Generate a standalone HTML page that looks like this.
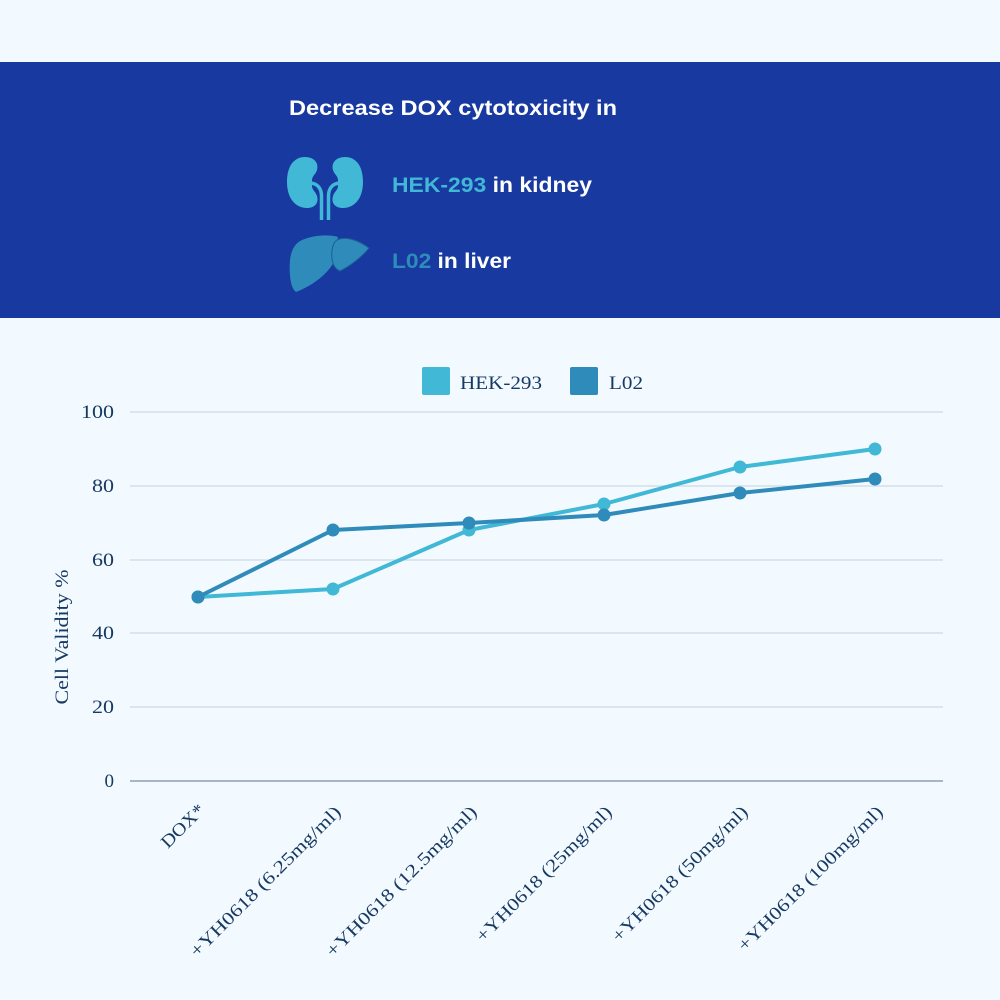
<!DOCTYPE html>
<html>
<head>
<meta charset="utf-8">
<style>
html,body{margin:0;padding:0;background:#f3faff;}
svg{display:block;}
</style>
</head>
<body>
<svg width="1000" height="1000" viewBox="0 0 1000 1000" xmlns="http://www.w3.org/2000/svg">
<rect x="0" y="0" width="1000" height="1000" fill="#f3faff"/>
<!-- header band -->
<rect x="0" y="62" width="1000" height="256" fill="#1739a0"/>
<text x="289" y="115" font-family="Liberation Sans, sans-serif" font-weight="bold" font-size="21" fill="#ffffff" textLength="328" lengthAdjust="spacingAndGlyphs">Decrease DOX cytotoxicity in</text>
<text x="392" y="192" font-family="Liberation Sans, sans-serif" font-weight="bold" font-size="21" fill="#ffffff" textLength="200" lengthAdjust="spacingAndGlyphs"><tspan fill="#41b8d5">HEK-293</tspan> in kidney</text>
<text x="392" y="268" font-family="Liberation Sans, sans-serif" font-weight="bold" font-size="21" fill="#ffffff" textLength="119" lengthAdjust="spacingAndGlyphs"><tspan fill="#2e8bba">L02</tspan> in liver</text>

<!-- kidney icon -->
<g fill="#41b8d5">
  <path d="M305,157 C294,157 287,166 287,182 C287,199 296,208 307,208 C315,208 319,203 317,196 C316,192 312,190 312,186 L312,180 C312,176 316,174 317,170 C319,163 314,157 305,157 Z"/>
  <path d="M345,157 C356,157 363,166 363,182 C363,199 354,208 343,208 C335,208 331,203 333,196 C334,192 338,190 338,186 L338,180 C338,176 334,174 333,170 C331,163 336,157 345,157 Z"/>
</g>
<g fill="none" stroke="#41b8d5" stroke-width="3.5">
  <path d="M311,183 C318,184 321.5,189 321.5,196 L321.5,220"/>
  <path d="M339,183 C332,184 328.5,189 328.5,196 L328.5,220"/>
</g>
<!-- liver icon -->
<g fill="#2e8bba">
  <path d="M300,241 C312,235 328,234 338,237 L334,262 C326,276 311,286 296,292 C290,288 289,272 290,260 C291,251 294,245 300,241 Z"/>
  <path d="M337,240 C346,236 358,240 369,248 C362,257 350,266 340,271 C333,268 331,260 332,250 C333,245 334,242 337,240 Z" stroke="#1f5f95" stroke-width="1"/>
</g>

<!-- legend -->
<rect x="422" y="367" width="28" height="28" rx="2" fill="#41b8d5"/>
<text x="460" y="389" font-family="Liberation Serif, serif" font-size="19" fill="#173a63" textLength="82" lengthAdjust="spacingAndGlyphs">HEK-293</text>
<rect x="570" y="367" width="28" height="28" rx="2" fill="#2e8bba"/>
<text x="609" y="389" font-family="Liberation Serif, serif" font-size="19" fill="#173a63" textLength="34" lengthAdjust="spacingAndGlyphs">L02</text>

<!-- grid -->
<g stroke="#d2dee8" stroke-width="1.5">
  <line x1="130" y1="412" x2="943" y2="412"/>
  <line x1="130" y1="486" x2="943" y2="486"/>
  <line x1="130" y1="560" x2="943" y2="560"/>
  <line x1="130" y1="633" x2="943" y2="633"/>
  <line x1="130" y1="707" x2="943" y2="707"/>
</g>
<line x1="130" y1="781" x2="943" y2="781" stroke="#8aa0b5" stroke-width="1.5"/>

<!-- y tick labels -->
<g font-family="Liberation Serif, serif" font-size="19" fill="#173a63" text-anchor="end">
  <text x="114" y="418" textLength="33" lengthAdjust="spacingAndGlyphs">100</text>
  <text x="114" y="492" textLength="22" lengthAdjust="spacingAndGlyphs">80</text>
  <text x="114" y="566" textLength="22" lengthAdjust="spacingAndGlyphs">60</text>
  <text x="114" y="639" textLength="22" lengthAdjust="spacingAndGlyphs">40</text>
  <text x="114" y="713" textLength="22" lengthAdjust="spacingAndGlyphs">20</text>
  <text x="114" y="787">0</text>
</g>
<text transform="translate(68,637) rotate(-90)" text-anchor="middle" font-family="Liberation Serif, serif" font-size="19" fill="#173a63" textLength="135" lengthAdjust="spacingAndGlyphs">Cell Validity %</text>

<!-- x labels -->
<g font-family="Liberation Serif, serif" font-size="18" fill="#173a63" text-anchor="end">
  <text transform="translate(206,811) rotate(-45)" textLength="54" lengthAdjust="spacingAndGlyphs">DOX*</text>
  <text transform="translate(342,813) rotate(-45)" textLength="205" lengthAdjust="spacingAndGlyphs">+YH0618 (6.25mg/ml)</text>
  <text transform="translate(478,813) rotate(-45)" textLength="205" lengthAdjust="spacingAndGlyphs">+YH0618 (12.5mg/ml)</text>
  <text transform="translate(613,813) rotate(-45)" textLength="184" lengthAdjust="spacingAndGlyphs">+YH0618 (25mg/ml)</text>
  <text transform="translate(749,813) rotate(-45)" textLength="184" lengthAdjust="spacingAndGlyphs">+YH0618 (50mg/ml)</text>
  <text transform="translate(884,813) rotate(-45)" textLength="197" lengthAdjust="spacingAndGlyphs">+YH0618 (100mg/ml)</text>
</g>

<!-- HEK-293 series -->
<polyline points="198,597 333,589 469,530 604,504 740,467 875,449" fill="none" stroke="#41b8d5" stroke-width="4" stroke-linejoin="round"/>
<g fill="#41b8d5">
  <circle cx="198" cy="597" r="6.5"/>
  <circle cx="333" cy="589" r="6.5"/>
  <circle cx="469" cy="530" r="6.5"/>
  <circle cx="604" cy="504" r="6.5"/>
  <circle cx="740" cy="467" r="6.5"/>
  <circle cx="875" cy="449" r="6.5"/>
</g>
<!-- L02 series -->
<polyline points="198,597 333,530 469,523 604,515 740,493 875,479" fill="none" stroke="#2e8bba" stroke-width="4" stroke-linejoin="round"/>
<g fill="#2e8bba">
  <circle cx="198" cy="597" r="6.5"/>
  <circle cx="333" cy="530" r="6.5"/>
  <circle cx="469" cy="523" r="6.5"/>
  <circle cx="604" cy="515" r="6.5"/>
  <circle cx="740" cy="493" r="6.5"/>
  <circle cx="875" cy="479" r="6.5"/>
</g>
</svg>
</body>
</html>
